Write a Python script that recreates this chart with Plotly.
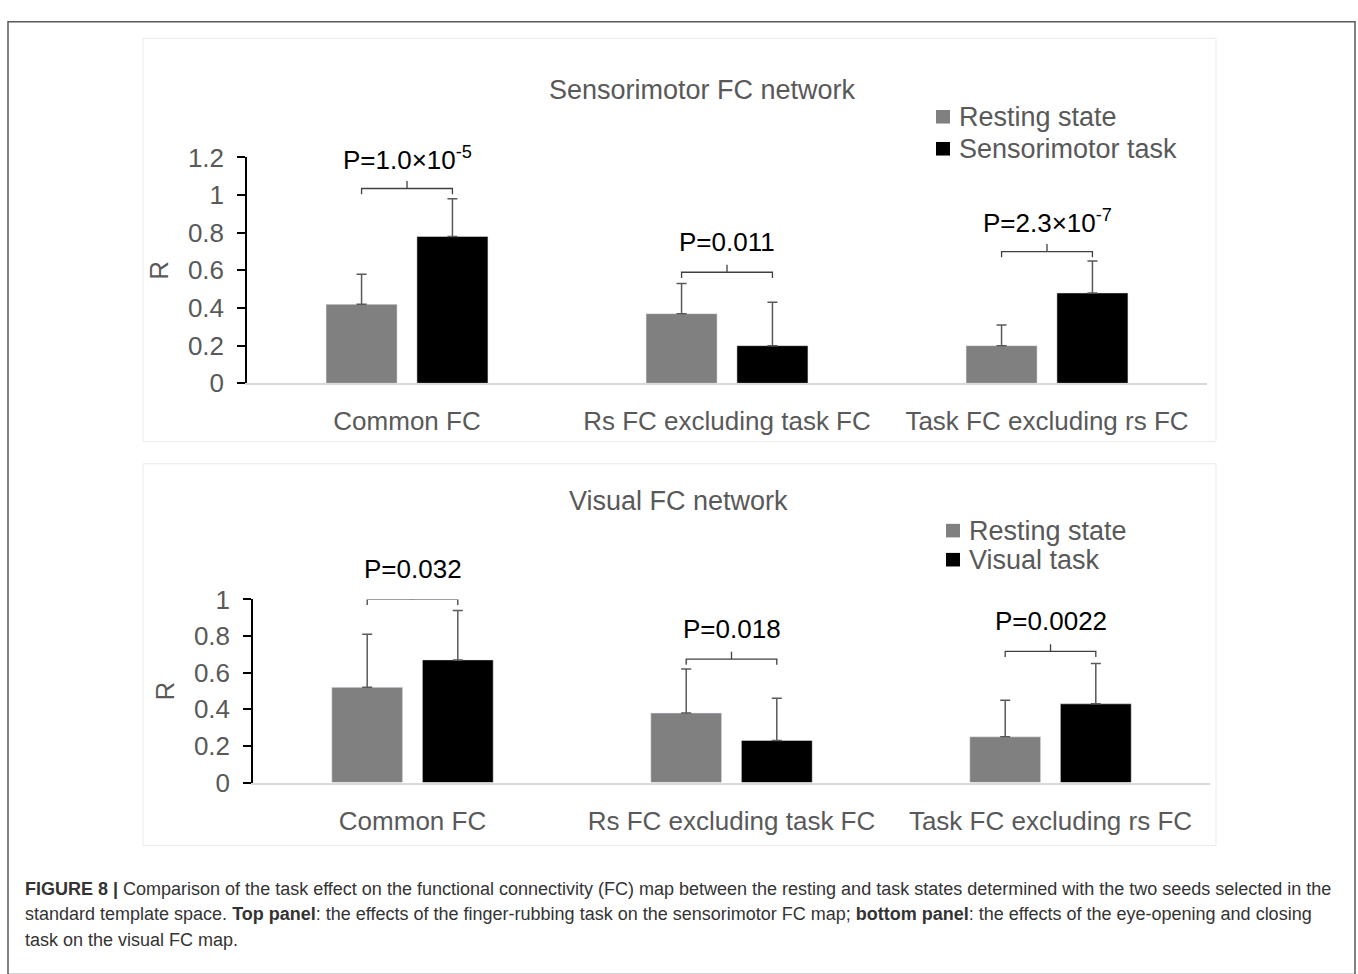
import plotly.graph_objects as go

# ---- data -------------------------------------------------------------
categories = ["Common FC", "Rs FC excluding task FC", "Task FC excluding rs FC"]

# Sensorimotor FC network (mean R and SD)
sm_rest = [0.42, 0.37, 0.20]
sm_rest_sd = [0.16, 0.16, 0.11]
sm_task = [0.78, 0.20, 0.48]
sm_task_sd = [0.20, 0.23, 0.17]
sm_pvalues = ["P=1.0×10<sup>-5</sup>", "P=0.011", "P=2.3×10<sup>-7</sup>"]
sm_bracket = [1.035, 0.59, 0.70]

# Visual FC network (mean R and SD)
vis_rest = [0.52, 0.38, 0.25]
vis_rest_sd = [0.29, 0.24, 0.20]
vis_task = [0.67, 0.23, 0.43]
vis_task_sd = [0.27, 0.23, 0.22]
vis_pvalues = ["P=0.032", "P=0.018", "P=0.0022"]
vis_bracket = [1.0, 0.674, 0.716]

sm_ticks = [0, 0.2, 0.4, 0.6, 0.8, 1, 1.2]
vis_ticks = [0, 0.2, 0.4, 0.6, 0.8, 1]

series_names = ["Resting state", "Sensorimotor task", "Visual task"]

# ---- styling ----------------------------------------------------------
W, H = 1358, 974
FONT = "Liberation Sans, Arial, sans-serif"
GREY_TXT = "#595959"
REST_COLOR = "#808080"
TASK_COLOR = "#000000"
BAR_W = 0.222
SHIFT = 0.142


def px(x):
    return x / W


def py(y):
    return 1 - y / H


fig = go.Figure()


def add_panel(xa, ya, rest, rest_sd, task, task_sd, task_name,
              brackets, pvals, drop, tick):
    idx = list(range(len(categories)))
    err_style = dict(type="data", symmetric=False, color=GREY_TXT,
                     thickness=1.5, width=5)
    fig.add_trace(go.Bar(
        x=idx, y=rest, name=series_names[0], marker_color=REST_COLOR,
        width=BAR_W, offset=-SHIFT - BAR_W / 2, xaxis=xa, yaxis=ya,
        showlegend=False,
        error_y=dict(array=rest_sd, arrayminus=[0] * len(rest), **err_style)))
    fig.add_trace(go.Bar(
        x=idx, y=task, name=task_name, marker_color=TASK_COLOR,
        width=BAR_W, offset=SHIFT - BAR_W / 2, xaxis=xa, yaxis=ya,
        showlegend=False,
        error_y=dict(array=task_sd, arrayminus=[0] * len(task), **err_style)))
    # significance brackets between the two bars of each category
    bx, by = [], []
    for i, lvl in zip(idx, brackets):
        bx += [i - SHIFT, i - SHIFT, i + SHIFT, i + SHIFT, None, i, i, None]
        by += [lvl - drop, lvl, lvl, lvl - drop, None, lvl, lvl + tick, None]
    fig.add_trace(go.Scatter(
        x=bx, y=by, mode="lines", xaxis=xa, yaxis=ya, showlegend=False,
        line=dict(color="#404040", width=1.3), cliponaxis=False,
        hoverinfo="skip"))
    for i, lvl, txt in zip(idx, brackets, pvals):
        fig.add_annotation(
            x=i, y=lvl, xref=xa, yref=ya, text=txt, showarrow=False,
            yshift=30, font=dict(family=FONT, size=26, color="#000000"))


add_panel("x", "y", sm_rest, sm_rest_sd, sm_task, sm_task_sd,
          series_names[1], sm_bracket, sm_pvalues, 0.03, 0.04)
add_panel("x2", "y2", vis_rest, vis_rest_sd, vis_task, vis_task_sd,
          series_names[2], vis_bracket, vis_pvalues, 0.03, 0.04)

xaxis_style = dict(
    range=[-0.5, 2.5], tickvals=[0, 1, 2], ticktext=categories,
    showline=True, linecolor="#d9d9d9", linewidth=2, ticks="",
    showgrid=False, zeroline=False, ticklabelstandoff=14,
    tickfont=dict(family=FONT, size=26, color=GREY_TXT), fixedrange=True)
yaxis_style = dict(
    showline=True, linecolor="#000000", linewidth=1.5, ticks="outside",
    ticklen=8, tickcolor="#000000", tickwidth=1.5, showgrid=False,
    zeroline=False, ticklabelstandoff=8,
    tickfont=dict(family=FONT, size=26, color=GREY_TXT),
    title=dict(text="R", standoff=12,
               font=dict(family=FONT, size=26, color=GREY_TXT)))

fig.update_layout(
    width=W, height=H, margin=dict(l=0, r=0, t=0, b=0),
    paper_bgcolor="white", plot_bgcolor="white",
    barmode="overlay", showlegend=False,
    xaxis=dict(domain=[px(247), px(1207)], anchor="y", **xaxis_style),
    yaxis=dict(domain=[py(380), py(147)], anchor="x", range=[0, 1.2],
               tickvals=sm_ticks, ticktext=[f"{t:g}" for t in sm_ticks],
               **yaxis_style),
    xaxis2=dict(domain=[px(253), px(1210)], anchor="y2", **xaxis_style),
    yaxis2=dict(domain=[py(792), py(603)], anchor="x2", range=[0, 1],
                tickvals=vis_ticks, ticktext=[f"{t:g}" for t in vis_ticks],
                **yaxis_style),
)

# legends: colour swatch + label for each panel
legend_rows = [
    # (swatch left, row centre y, text left, label, colour)
    (936, 105, 957, series_names[0], REST_COLOR),
    (936, 138, 957, series_names[1], TASK_COLOR),
    (946, 532, 967, series_names[0], REST_COLOR),
    (946, 562, 967, series_names[2], TASK_COLOR),
]
for sx, cy, tx, label, col in legend_rows:
    fig.add_shape(type="rect", xref="paper", yref="paper",
                  x0=px(sx), x1=px(sx + 14), y0=py(cy + 7), y1=py(cy - 7),
                  line=dict(width=0), fillcolor=col)
    fig.add_annotation(x=px(tx), y=py(cy), xref="paper", yref="paper",
                       xanchor="left", yanchor="middle", text=label,
                       showarrow=False,
                       font=dict(family=FONT, size=27, color=GREY_TXT))

# panel titles
fig.add_annotation(x=px(702), y=py(60), xref="paper", yref="paper",
                   text="Sensorimotor FC network", showarrow=False,
                   font=dict(family=FONT, size=27, color=GREY_TXT))
fig.add_annotation(x=px(678), y=py(501), xref="paper", yref="paper",
                   text="Visual FC network", showarrow=False,
                   font=dict(family=FONT, size=27, color=GREY_TXT))

# panel frames and outer figure frame
for y0, y1 in [(24, 440), (463, 857)]:
    fig.add_shape(type="rect", xref="paper", yref="paper",
                  x0=px(143), x1=px(1216), y0=py(y1), y1=py(y0),
                  line=dict(color="#ebebeb", width=1), layer="below")
fig.add_shape(type="rect", xref="paper", yref="paper",
              x0=px(8), x1=px(1355), y0=py(990), y1=py(7),
              line=dict(color="#595959", width=1.5))

# caption
caption_lines = [
    "<b>FIGURE 8 |</b> Comparison of the task effect on the functional "
    "connectivity (FC) map between the resting and task states determined "
    "with the two seeds selected in the",
    "standard template space. <b>Top panel</b>: the effects of the "
    "finger-rubbing task on the sensorimotor FC map; <b>bottom panel</b>: "
    "the effects of the eye-opening and closing",
    "task on the visual FC map.",
]
for k, line in enumerate(caption_lines):
    fig.add_annotation(x=px(23), y=py(902 + 26 * k), xref="paper",
                       yref="paper", xanchor="left", yanchor="middle",
                       text=line, showarrow=False, align="left",
                       font=dict(family=FONT, size=18, color="#333333"))

fig.write_html("out.html")
